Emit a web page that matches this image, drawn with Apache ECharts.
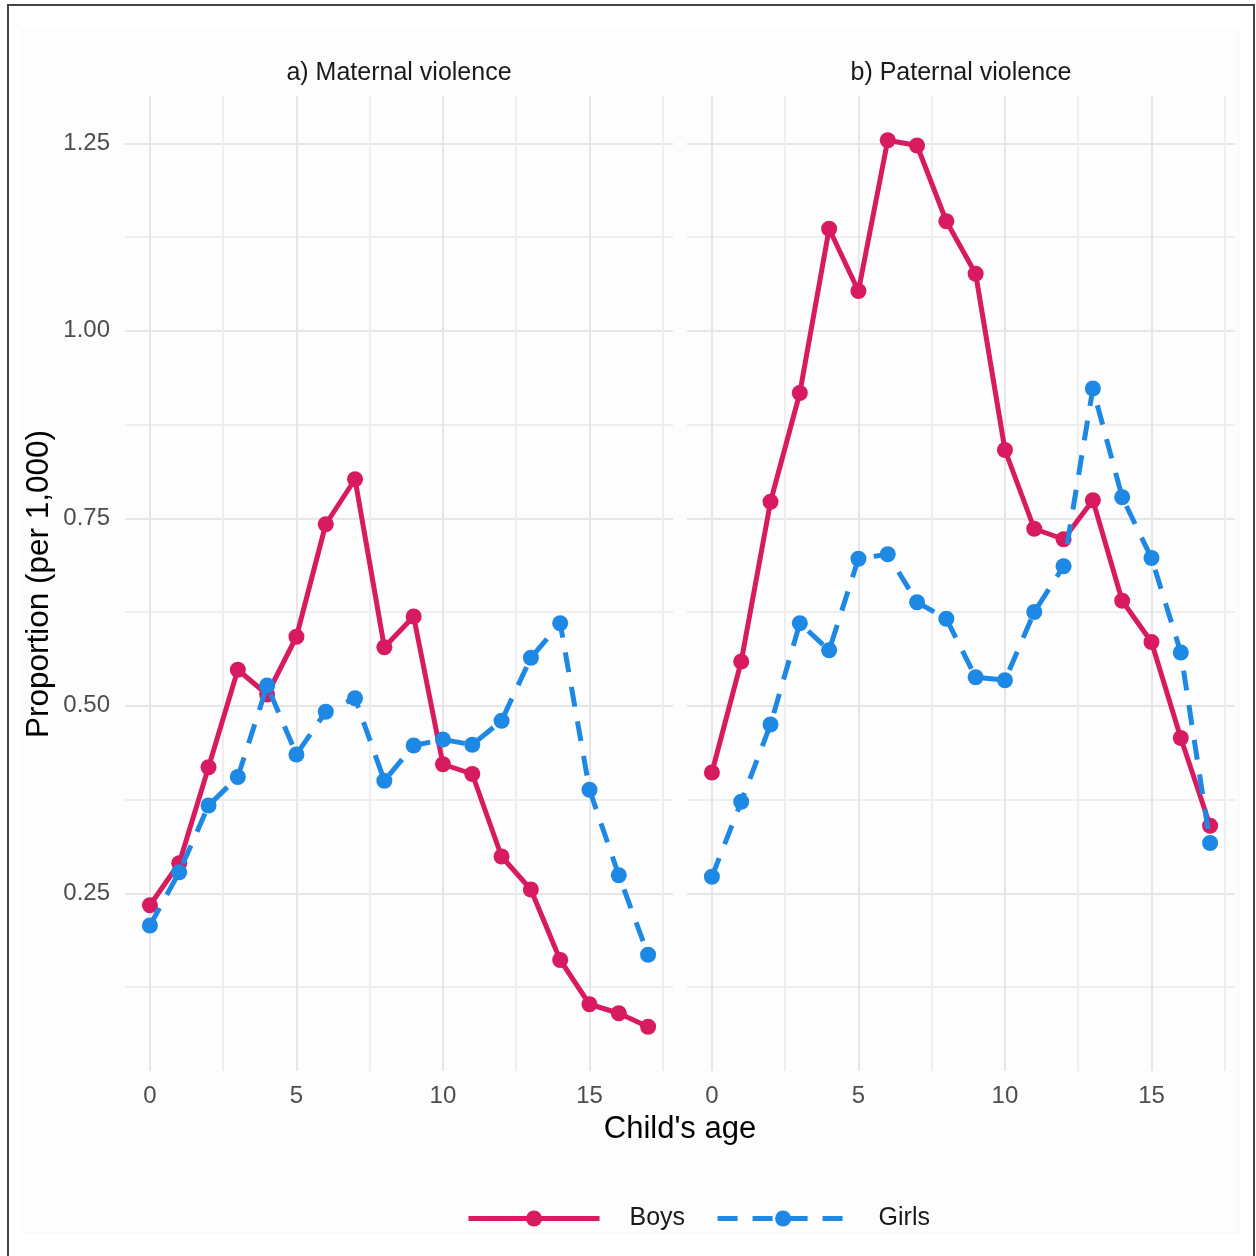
<!DOCTYPE html>
<html>
<head>
<meta charset="utf-8">
<script src="https://cdn.jsdelivr.net/npm/echarts@6/dist/echarts.min.js"></script>
<style>
  html, body { margin: 0; padding: 0; background: #ffffff; }
  #chart { width: 1256px; height: 1256px; }
</style>
</head>
<body>
<div id="chart"></div>
<script>
// ---- Data ----
const ages = [0, 1, 2, 3, 4, 5, 6, 7, 8, 9, 10, 11, 12, 13, 14, 15, 16, 17];
const panelTitles = ['a) Maternal violence', 'b) Paternal violence'];
const seriesNames = ['Boys', 'Girls'];

const maternalBoys  = [0.234, 0.290, 0.418, 0.548, 0.515, 0.592, 0.742, 0.802, 0.578, 0.619, 0.422, 0.409, 0.299, 0.255, 0.161, 0.102, 0.090, 0.072];
const maternalGirls = [0.207, 0.278, 0.367, 0.405, 0.527, 0.435, 0.492, 0.510, 0.400, 0.447, 0.455, 0.448, 0.480, 0.564, 0.610, 0.388, 0.274, 0.168];
const paternalBoys  = [0.411, 0.559, 0.772, 0.917, 1.136, 1.053, 1.254, 1.247, 1.146, 1.076, 0.841, 0.736, 0.722, 0.774, 0.640, 0.585, 0.457, 0.340];
const paternalGirls = [0.272, 0.372, 0.475, 0.610, 0.574, 0.696, 0.702, 0.638, 0.616, 0.538, 0.534, 0.625, 0.686, 0.923, 0.778, 0.697, 0.571, 0.317];

const yLabelValues = [0.25, 0.50, 0.75, 1.00, 1.25];
const yGridValues  = [0.125, 0.25, 0.375, 0.5, 0.625, 0.75, 0.875, 1.0, 1.125, 1.25];
const xLabelValues = [0, 5, 10, 15];
const xGridValues  = [0, 2.5, 5, 7.5, 10, 12.5, 15, 17.5];

// ---- Style ----
const FONT = '"Liberation Sans", Arial, Helvetica, sans-serif';
const BOYS_COLOR = '#D81B60';
const GIRLS_COLOR = '#1E88E5';
const X_MIN = -0.85, X_MAX = 17.85;
const Y_MIN = 0.013, Y_MAX = 1.313;
const MAJOR_GRID = '#e6e6e6';
const MINOR_GRID = '#eeeeee';

const grids = [
  { left: 125, top: 96, width: 548, height: 975 },
  { left: 687, top: 96, width: 548, height: 975 }
];

function xAxisFor(i) {
  return {
    type: 'value', gridIndex: i, min: X_MIN, max: X_MAX,
    axisLine: { show: false },
    axisTick: { show: false, customValues: xGridValues },
    axisLabel: {
      customValues: xLabelValues, margin: 13,
      color: '#4d4d4d', fontSize: 24, fontFamily: FONT,
      formatter: v => String(v)
    },
    splitLine: { show: true, lineStyle: { color: [MAJOR_GRID, MINOR_GRID], width: 2 } }
  };
}
function yAxisFor(i) {
  return {
    type: 'value', gridIndex: i, min: Y_MIN, max: Y_MAX,
    axisLine: { show: false },
    axisTick: { show: false, customValues: yGridValues },
    axisLabel: {
      show: i === 0,
      customValues: yLabelValues, margin: 15,
      color: '#4d4d4d', fontSize: 24, fontFamily: FONT,
      formatter: v => v.toFixed(2)
    },
    splitLine: { show: true, lineStyle: { color: [MINOR_GRID, MAJOR_GRID], width: 2 } }
  };
}

function pairs(vals) { return ages.map((a, k) => [a, vals[k]]); }

function lineSeries(name, vals, idx, color, dashed) {
  return {
    name: name, type: 'line', xAxisIndex: idx, yAxisIndex: idx,
    data: pairs(vals),
    symbol: 'circle', symbolSize: 16, showSymbol: true,
    itemStyle: { color: color },
    lineStyle: { color: color, width: 5, type: dashed ? [20, 15] : 'solid' },
    emphasis: { disabled: true },
    animation: false,
    z: dashed ? 3 : 2
  };
}

const chart = echarts.init(document.getElementById('chart'), null, { renderer: 'canvas' });
chart.setOption({
  backgroundColor: '#ffffff',
  animation: false,
  graphic: [
    { type: 'rect', shape: { x: 8, y: 5, width: 1246, height: 1262 },
      style: { fill: null, stroke: '#444444', lineWidth: 2 }, z: 100, silent: true },
    { type: 'rect', shape: { x: 22, y: 30, width: 1217, height: 1203 },
      style: { fill: '#fdfdfd', stroke: '#f7f7f7', lineWidth: 1 }, z: -10, silent: true },
    { type: 'text', x: 39, y: 584, rotation: Math.PI / 2,
      style: { text: 'Proportion (per 1,000)', fontFamily: FONT, fontSize: 31.5, fill: '#000000',
               align: 'center', verticalAlign: 'middle' }, silent: true }
  ],
  title: [
    { text: panelTitles[0], left: 399, top: 61, textAlign: 'center',
      textStyle: { fontFamily: FONT, fontSize: 25, fontWeight: 'normal', color: '#1a1a1a' }, padding: 0 },
    { text: panelTitles[1], left: 961, top: 61, textAlign: 'center',
      textStyle: { fontFamily: FONT, fontSize: 25, fontWeight: 'normal', color: '#1a1a1a' }, padding: 0 },
    { text: "Child's age", left: 680, top: 1114, textAlign: 'center',
      textStyle: { fontFamily: FONT, fontSize: 31, fontWeight: 'normal', color: '#000000' }, padding: 0 }
  ],
  legend: {
    data: seriesNames,
    left: 461, top: 1201,
    itemWidth: 131, itemHeight: 20, itemGap: 30,
    lineStyle: { width: 5 },
    textStyle: { fontFamily: FONT, fontSize: 25, color: '#1a1a1a', padding: [0, 0, 0, 25] },
    selectedMode: false
  },
  grid: grids,
  xAxis: [xAxisFor(0), xAxisFor(1)],
  yAxis: [yAxisFor(0), yAxisFor(1)],
  series: [
    lineSeries(seriesNames[0], maternalBoys, 0, BOYS_COLOR, false),
    lineSeries(seriesNames[1], maternalGirls, 0, GIRLS_COLOR, true),
    lineSeries(seriesNames[0], paternalBoys, 1, BOYS_COLOR, false),
    lineSeries(seriesNames[1], paternalGirls, 1, GIRLS_COLOR, true)
  ]
});
</script>
</body>
</html>
